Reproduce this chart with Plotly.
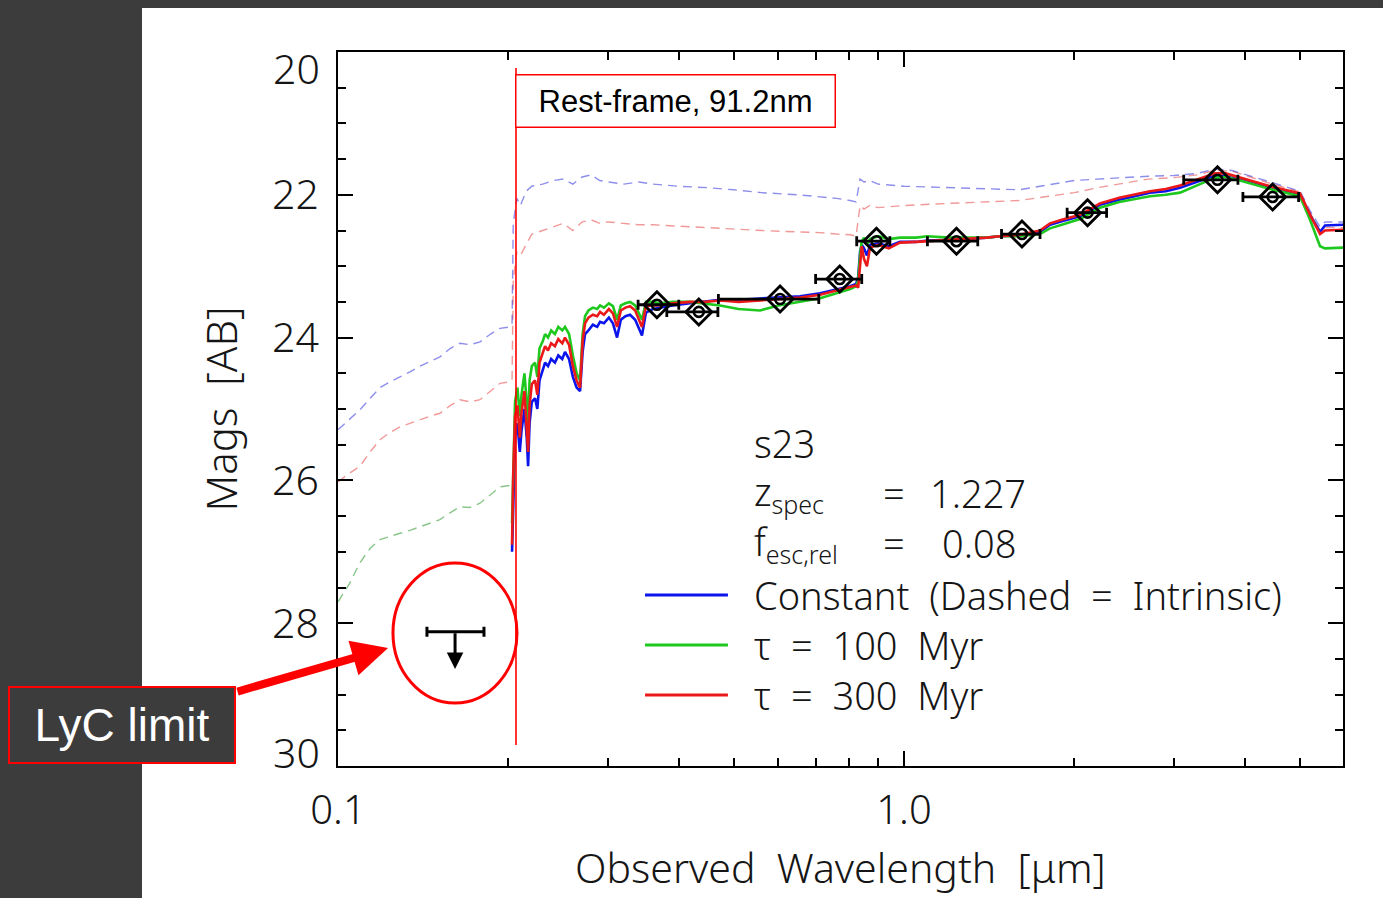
import numpy as np
import plotly.graph_objects as go

# ---- photometry (observed wavelength in micron, AB mag) ----
phot_wave = [0.366, 0.434, 0.604, 0.770, 0.894, 1.238, 1.616, 2.11, 3.58, 4.48]
phot_mag = [23.54, 23.64, 23.46, 23.18, 22.65, 22.65, 22.55, 22.25, 21.79, 22.03]
band_lo = [0.339, 0.381, 0.470, 0.698, 0.825, 1.10, 1.487, 1.942, 3.12, 3.97]
band_hi = [0.400, 0.469, 0.707, 0.842, 0.944, 1.35, 1.739, 2.28, 3.89, 4.98]

# LyC upper limit
lyc_wave = 0.161
lyc_mag = 28.12
lyc_lo = 0.1436
lyc_hi = 0.1811

# ---- model SEDs, attenuated ----
model_wave = [0.2030, 0.2040, 0.2055, 0.2075, 0.2095, 0.2110, 0.2135, 0.2155, 0.2167, 0.2180,
              0.2200, 0.2229, 0.2250, 0.2270, 0.2300, 0.2322, 0.2350, 0.2380, 0.2417, 0.2450,
              0.2490, 0.2518, 0.2560, 0.2600, 0.2640, 0.2677, 0.2705, 0.2732, 0.2770, 0.2820,
              0.2870, 0.2904, 0.2950, 0.3010, 0.3060, 0.3112, 0.3160, 0.3220, 0.3281, 0.3350,
              0.3444, 0.3500, 0.3600, 0.3706, 0.3900, 0.4188, 0.4450, 0.4731, 0.5100, 0.5568,
              0.6000, 0.6551, 0.7107, 0.7600, 0.8030, 0.8228, 0.8300, 0.8363, 0.8420, 0.8500,
              0.8600, 0.8710, 0.9000, 0.9400, 0.9838, 1.050, 1.100, 1.206, 1.300, 1.400,
              1.478, 1.600, 1.739, 1.811, 1.900, 2.047, 2.219, 2.400, 2.720, 2.900,
              3.074, 3.334, 3.544, 3.700, 3.924, 4.434, 5.008, 5.216, 5.433, 5.544, 5.965]

const_mag = [27.0, 26.2, 25.4, 25.2, 25.6, 25.3, 25.0, 25.4, 25.8, 25.2,
             24.9, 24.85, 25.0, 24.6, 24.45, 24.35, 24.4, 24.3, 24.35, 24.25,
             24.3, 24.2, 24.3, 24.55, 24.7, 24.75, 24.2, 23.95, 23.9, 23.82,
             23.85, 23.78, 23.8, 23.72, 23.8, 24.0, 23.75, 23.7, 23.68, 23.75,
             23.97, 23.65, 23.6, 23.58, 23.55, 23.52, 23.5, 23.47, 23.47, 23.45,
             23.44, 23.42, 23.38, 23.33, 23.28, 23.25, 23.15, 22.80, 22.70, 22.75,
             22.85, 22.70, 22.68, 22.72, 22.66, 22.66, 22.64, 22.63, 22.62, 22.60,
             22.58, 22.57, 22.52, 22.42, 22.37, 22.30, 22.14, 22.07, 21.97, 21.95,
             21.90, 21.80, 21.73, 21.74, 21.79, 21.90, 22.00, 22.28, 22.52, 22.43, 22.42]

tau100_mag = [26.6, 25.7, 24.9, 24.7, 25.1, 24.8, 24.5, 24.9, 25.2, 24.6,
              24.4, 24.35, 24.55, 24.15, 24.05, 23.95, 24.0, 23.9, 23.95, 23.85,
              23.9, 23.85, 23.95, 24.25, 24.5, 24.6, 23.95, 23.7, 23.62, 23.58,
              23.6, 23.55, 23.58, 23.52, 23.56, 23.75, 23.55, 23.52, 23.5, 23.55,
              23.75, 23.5, 23.5, 23.52, 23.5, 23.5, 23.52, 23.55, 23.6, 23.62,
              23.55, 23.5, 23.45, 23.38, 23.32, 23.28, 23.2, 22.85, 22.65, 22.6,
              22.7, 22.62, 22.58, 22.62, 22.6, 22.6, 22.58, 22.6, 22.6, 22.6,
              22.58, 22.58, 22.55, 22.47, 22.42, 22.34, 22.18, 22.1, 22.02, 22.0,
              21.97, 21.85, 21.76, 21.75, 21.8, 21.92, 22.02, 22.35, 22.72, 22.75, 22.74]

tau300_mag = [26.9, 25.9, 25.1, 24.95, 25.4, 25.05, 24.75, 25.2, 25.6, 24.95,
              24.65, 24.6, 24.8, 24.35, 24.2, 24.12, 24.18, 24.08, 24.12, 24.02,
              24.08, 24.0, 24.1, 24.4, 24.6, 24.7, 24.05, 23.8, 23.72, 23.68,
              23.7, 23.64, 23.68, 23.6, 23.66, 23.85, 23.62, 23.58, 23.56, 23.62,
              23.85, 23.56, 23.55, 23.55, 23.52, 23.5, 23.5, 23.48, 23.5, 23.48,
              23.46, 23.44, 23.4, 23.34, 23.3, 23.27, 23.3, 22.95, 22.72, 22.9,
              23.0, 22.74, 22.7, 22.75, 22.67, 22.66, 22.65, 22.64, 22.62, 22.6,
              22.58, 22.56, 22.5, 22.4, 22.35, 22.28, 22.12, 22.04, 21.95, 21.92,
              21.87, 21.77, 21.7, 21.7, 21.76, 21.88, 21.98, 22.28, 22.55, 22.5, 22.49]

# ---- model SEDs, intrinsic (no LyC absorption) ----
intr_wave = [0.100, 0.1047, 0.1094, 0.1140, 0.1186, 0.1235, 0.1287, 0.1340, 0.1396, 0.1455,
             0.1514, 0.1580, 0.1643, 0.1710, 0.1782, 0.1860, 0.1933, 0.2013, 0.2030, 0.2040,
             0.2070, 0.2100, 0.2150, 0.2200, 0.2300, 0.2400, 0.2500, 0.2600, 0.2700, 0.2800,
             0.2900, 0.3000, 0.3200, 0.3400, 0.3600, 0.4000, 0.4500, 0.5000, 0.5600, 0.6500,
             0.7100, 0.7600, 0.8030, 0.8228, 0.8363, 0.8500, 0.8700, 0.9000, 1.000, 1.200,
             1.400, 1.600, 1.800, 2.000, 2.200, 2.500, 2.700, 3.000, 3.300, 3.544,
             3.800, 4.434, 5.008, 5.216, 5.433, 5.544, 5.965]

const_intr = [25.29, 25.15, 25.01, 24.85, 24.70, 24.62, 24.55, 24.48, 24.40, 24.33,
              24.27, 24.15, 24.08, 24.10, 24.06, 23.95, 23.87, 23.85, 23.82, 22.40,
              22.05, 22.15, 21.95, 21.88, 21.85, 21.80, 21.78, 21.85, 21.75, 21.72,
              21.80, 21.82, 21.85, 21.82, 21.85, 21.88, 21.90, 21.93, 21.97, 22.00,
              22.03, 22.05, 22.08, 22.10, 21.78, 21.82, 21.80, 21.85, 21.88, 21.90,
              21.92, 21.93, 21.86, 21.80, 21.78, 21.75, 21.74, 21.73, 21.70, 21.64,
              21.66, 21.82, 21.95, 22.22, 22.45, 22.38, 22.38]

tau300_intr = [26.02, 25.9, 25.8, 25.6, 25.43, 25.33, 25.25, 25.2, 25.15, 25.1,
               25.06, 24.95, 24.87, 24.9, 24.87, 24.75, 24.64, 24.62, 24.6, 23.2,
               22.8, 22.85, 22.7, 22.55, 22.5, 22.45, 22.4, 22.5, 22.38, 22.35,
               22.4, 22.38, 22.4, 22.42, 22.42, 22.44, 22.46, 22.48, 22.5, 22.52,
               22.53, 22.55, 22.56, 22.58, 22.15, 22.2, 22.15, 22.18, 22.15, 22.12,
               22.1, 22.08, 22.02, 21.97, 21.9, 21.82, 21.78, 21.76, 21.72, 21.66,
               21.67, 21.84, 21.96, 22.25, 22.5, 22.46, 22.46]

tau100_intr = [27.7, 27.45, 27.15, 26.95, 26.83, 26.78, 26.74, 26.7, 26.65, 26.6,
               26.55, 26.45, 26.37, 26.38, 26.32, 26.2, 26.09, 26.07, 26.05]

# ---- axes ----
x_range = [0.1, 5.965]
y_range = [30, 20]
x_major = [0.1, 1.0]
x_major_text = ["0.1", "1.0"]
x_minor = [0.2, 0.3, 0.4, 0.5, 0.6, 0.7, 0.8, 0.9, 2, 3, 4, 5]
y_major = [20, 22, 24, 26, 28, 30]
# end labels are set inside the frame, the inner ones sit on their ticks
y_major_text = ["", "22", "24", "26", "28", ""]

BLUE = "rgb(10,20,235)"
GREEN = "rgb(30,200,30)"
RED = "rgb(235,25,25)"
DARK = "#3c3c3c"
INK = "#151515"
FONT = "Noto Sans"
FW = 300
NB = "\u00a0"

fig = go.Figure()

# intrinsic (dashed) curves
dash = "9px,6px"
fig.add_trace(go.Scatter(x=intr_wave[:len(tau100_intr)], y=tau100_intr, mode="lines",
                         line=dict(color="rgba(40,150,40,0.55)", width=1.4, dash=dash),
                         hoverinfo="skip", showlegend=False))
fig.add_trace(go.Scatter(x=intr_wave, y=tau300_intr, mode="lines",
                         line=dict(color="rgba(230,70,70,0.55)", width=1.4, dash=dash),
                         hoverinfo="skip", showlegend=False))
fig.add_trace(go.Scatter(x=intr_wave, y=const_intr, mode="lines",
                         line=dict(color="rgba(50,50,220,0.55)", width=1.4, dash=dash),
                         hoverinfo="skip", showlegend=False))

# attenuated (solid) curves
for mags, col in [(const_mag, BLUE), (tau100_mag, GREEN), (tau300_mag, RED)]:
    fig.add_trace(go.Scatter(x=model_wave, y=mags, mode="lines",
                             line=dict(color=col, width=2.6),
                             hoverinfo="skip", showlegend=False))

# photometry with band widths
pw = np.array(phot_wave)
err_minus = pw - np.array(band_lo)
err_plus = np.array(band_hi) - pw
fig.add_trace(go.Scatter(
    x=phot_wave, y=phot_mag, mode="markers",
    marker=dict(symbol="diamond-open", size=20, color="black", line=dict(width=2.8)),
    error_x=dict(type="data", symmetric=False, array=err_plus, arrayminus=err_minus,
                 color="black", thickness=2.8, width=5),
    showlegend=False))
fig.add_trace(go.Scatter(
    x=phot_wave, y=phot_mag, mode="markers",
    marker=dict(symbol="circle-open", size=10, color="black", line=dict(width=2.6)),
    showlegend=False, hoverinfo="skip"))

# LyC upper limit
fig.add_trace(go.Scatter(
    x=[lyc_wave], y=[lyc_mag], mode="markers",
    marker=dict(size=1, color="black"),
    error_x=dict(type="data", symmetric=False, array=[lyc_hi - lyc_wave],
                 arrayminus=[lyc_wave - lyc_lo], color="black", thickness=3, width=5),
    showlegend=False))
fig.add_annotation(x=np.log10(lyc_wave), y=lyc_mag + 0.52, xref="x", yref="y",
                   ax=np.log10(lyc_wave), ay=lyc_mag, axref="x", ayref="y",
                   text="", showarrow=True, arrowhead=2, arrowsize=1.1,
                   arrowwidth=3, arrowcolor="black")

shapes = []
# white slide panel
shapes.append(dict(type="rect", xref="paper", yref="paper",
                   x0=(142 - 338) / 1005, x1=(1383 - 338) / 1005,
                   y0=(766 - 898) / 714, y1=(766 - 8) / 714,
                   fillcolor="white", line=dict(width=0), layer="below"))
# rest-frame Lyman limit marker
shapes.append(dict(type="line", xref="paper", yref="paper",
                   x0=0.1771, x1=0.1771, y0=0.0294, y1=0.9776,
                   line=dict(color="red", width=1.6)))
# highlight ring around the LyC limit
shapes.append(dict(type="circle", xref="paper", yref="paper",
                   x0=0.0547, x1=0.1781, y0=0.0882, y1=0.2843,
                   line=dict(color="red", width=3)))

# legend swatches
for yy, col in [(0.2395, BLUE), (0.1695, GREEN), (0.0994, RED)]:
    shapes.append(dict(type="line", xref="paper", yref="paper",
                       x0=0.3055, x1=0.388, y0=yy, y1=yy,
                       line=dict(color=col, width=3)))

fig.update_layout(shapes=shapes)


def label(x, y, text, size=38, anchor="left"):
    fig.add_annotation(x=x, y=y, xref="paper", yref="paper", text=text,
                       showarrow=False, xanchor=anchor, yanchor="middle",
                       font=dict(family=FONT, size=size, color=INK, weight=FW))


def sub(s):
    return f"<sub><span style='font-size:25px'>{s}</span></sub>"


label(0.412, 0.452, "s23")
label(0.412, 0.382, "z" + sub("spec"))
label(0.540, 0.382, "=")
label(0.587, 0.382, "1.227")
label(0.412, 0.312, "f" + sub("esc,rel"))
label(0.540, 0.312, "=")
label(0.599, 0.312, "0.08")
label(0.412, 0.2395, f"Constant{NB}{NB}(Dashed{NB}{NB}={NB}{NB}Intrinsic)")
label(0.412, 0.1695, f"τ{NB}{NB}={NB}{NB}100{NB}{NB}Myr")
label(0.412, 0.0994, f"τ{NB}{NB}={NB}{NB}300{NB}{NB}Myr")

# end tick labels of the magnitude axis
label(-0.0159, 0.9776, "20", size=41, anchor="right")
label(-0.0159, 0.0196, "30", size=41, anchor="right")

# wavelength axis title
label(0.5, -0.142, f"Observed{NB}{NB}Wavelength{NB}{NB}[μm]", size=41, anchor="center")

# slide callouts
fig.add_annotation(x=0.3363, y=0.9307, xref="paper", yref="paper",
                   text="Rest-frame, 91.2nm", showarrow=False,
                   xanchor="center", yanchor="middle",
                   font=dict(family="Liberation Sans", size=31, color="black"),
                   bgcolor="white", bordercolor="red", borderwidth=1.5,
                   width=312, height=45, borderpad=3)
fig.add_annotation(x=-0.2149, y=0.0574, xref="paper", yref="paper",
                   text="LyC limit", showarrow=False,
                   xanchor="center", yanchor="middle",
                   font=dict(family="Liberation Sans", size=46, color="white"),
                   bgcolor=DARK, bordercolor="red", borderwidth=2,
                   width=218, height=68, borderpad=3)
fig.add_annotation(x=0.0498, y=0.1653, xref="paper", yref="paper",
                   text="", showarrow=True, ax=-152, ay=44,
                   arrowhead=2, arrowsize=0.9, arrowwidth=8, arrowcolor="red")

fig.update_xaxes(type="log", range=[np.log10(x_range[0]), np.log10(x_range[1])],
                 tickmode="array", tickvals=x_major, ticktext=x_major_text,
                 ticks="inside", ticklen=15, tickwidth=2, tickcolor="black",
                 minor=dict(tickmode="array", tickvals=x_minor, ticks="inside",
                            ticklen=8, tickwidth=2, tickcolor="black"),
                 showline=True, linecolor="black", linewidth=2, mirror="allticks",
                 showgrid=False, zeroline=False, ticklabelstandoff=8,
                 tickfont=dict(family=FONT, size=40, color=INK, weight=FW))
fig.update_yaxes(range=y_range, tickmode="array", tickvals=y_major, ticktext=y_major_text,
                 ticks="inside", ticklen=15, tickwidth=2, tickcolor="black",
                 minor=dict(dtick=0.5, ticks="inside", ticklen=8, tickwidth=2,
                            tickcolor="black"),
                 showline=True, linecolor="black", linewidth=2, mirror="allticks",
                 showgrid=False, zeroline=False, ticklabelstandoff=9,
                 tickfont=dict(family=FONT, size=41, color=INK, weight=FW),
                 title=dict(text=f"Mags{NB}{NB}[AB]", standoff=21,
                            font=dict(family=FONT, size=42, color=INK, weight=FW)))

fig.update_layout(width=1383, height=898,
                  margin=dict(l=338, r=40, t=52, b=132),
                  paper_bgcolor=DARK, plot_bgcolor="white",
                  showlegend=False)

fig.write_html("out.html")
